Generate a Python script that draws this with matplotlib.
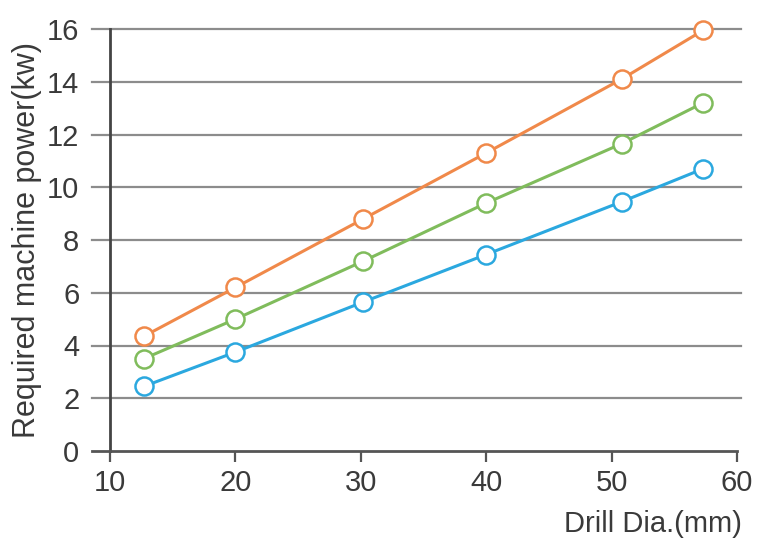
import matplotlib
matplotlib.use("Agg")
import matplotlib.pyplot as plt
from matplotlib import font_manager

names = {f.name for f in font_manager.fontManager.ttflist}
fam = "Liberation Sans Narrow" if "Liberation Sans Narrow" in names else "Liberation Sans"
plt.rcParams['font.family'] = [fam, 'DejaVu Sans']

drill_dia = [12.7, 20, 30.2, 40, 50.8, 57.3]
power_high = [4.35, 6.2, 8.8, 11.3, 14.1, 15.95]
power_mid = [3.5, 5.0, 7.2, 9.4, 11.65, 13.2]
power_low = [2.45, 3.75, 5.65, 7.45, 9.45, 10.7]
x_ticks = [10, 20, 30, 40, 50, 60]
y_ticks = [0, 2, 4, 6, 8, 10, 12, 14, 16]

colors = ["#F0894A", "#80BC5C", "#2BA8DF"]

fig = plt.figure(figsize=(7.58, 5.44), dpi=100)
ax = fig.add_axes([110/758, 1-451/544, (737-110)/758, (451-29)/544])
ax.set_xlim(10, 60)
ax.set_ylim(0, 16)

for yv in y_ticks[1:]:
    ax.plot([8.6, 60.3], [yv, yv], color="#8c8c8c", lw=1.6, clip_on=False, zorder=1)

for series, c in zip([power_high, power_mid, power_low], colors):
    ax.plot(drill_dia, series, color=c, lw=2.2, marker='o', markersize=13,
            markerfacecolor='white', markeredgecolor=c, markeredgewidth=1.8,
            clip_on=False, zorder=3)

for s in ['top', 'right']:
    ax.spines[s].set_visible(False)
ax.spines['left'].set_color("#444444")
ax.spines['left'].set_linewidth(2)
ax.spines['bottom'].set_color("#555555")
ax.spines['bottom'].set_linewidth(2)
ax.plot([8.6, 10], [0, 0], color="#555555", lw=2, clip_on=False, zorder=2)

ax.set_xticks(x_ticks)
ax.set_yticks(y_ticks)
ax.tick_params(axis='x', direction='out', length=8, width=1.6, color="#555555",
               labelsize=21, labelcolor="#3a3a3a", pad=5)
ax.tick_params(axis='y', length=0, labelsize=21, labelcolor="#3a3a3a", pad=22)

ax.set_ylabel("Required machine power(kw)", fontsize=22, color="#3a3a3a", labelpad=4)
fig.text(742/758, 1-524/544, "Drill Dia.(mm)", fontsize=21, color="#3a3a3a",
         ha='right', va='center')

fig.savefig("out.png", dpi=100)
